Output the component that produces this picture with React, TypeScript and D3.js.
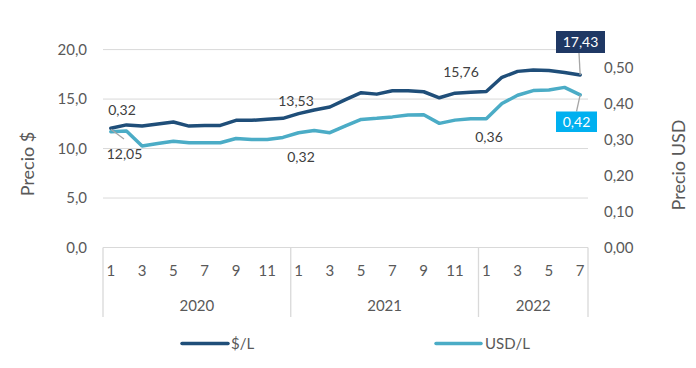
import React from 'react';
import * as d3 from 'd3';

const months = [1,2,3,4,5,6,7,8,9,10,11,12, 1,2,3,4,5,6,7,8,9,10,11,12, 1,2,3,4,5,6,7];
const years = ['2020', '2021', '2022'];
const yearCounts = [12, 12, 7];

const pesos = [12.05, 12.39, 12.27, 12.47, 12.68, 12.27, 12.34, 12.34, 12.85, 12.85, 12.95, 13.05,
  13.53, 13.9, 14.2, 14.95, 15.65, 15.5, 15.84, 15.84, 15.74, 15.13, 15.6, 15.7,
  15.76, 17.2, 17.8, 17.95, 17.88, 17.68, 17.43];
const usd = [0.322, 0.324, 0.282, 0.289, 0.295, 0.291, 0.291, 0.291, 0.303, 0.300, 0.300, 0.306,
  0.319, 0.325, 0.319, 0.338, 0.356, 0.359, 0.363, 0.368, 0.369, 0.345, 0.354, 0.358,
  0.358, 0.400, 0.423, 0.436, 0.438, 0.445, 0.424];

const leftTicks = [0, 5, 10, 15, 20];
const rightTicks = [0, 0.1, 0.2, 0.3, 0.4, 0.5];

const W = 696, H = 368;
const x0 = 103, x1 = 588, yTop = 49.6, yBot = 247.5;
const font = 'Lato, "Open Sans", sans-serif';
const dark = '#1F4E79';
const light = '#4BACC6';
const fmt = (v: number, d: number) => v.toFixed(d).replace('.', ',');

export default function App() {
  const x = d3.scaleBand<number>().domain(d3.range(months.length)).range([x0, x1]).padding(0);
  const cx = (i: number) => (x(i) as number) + x.bandwidth() / 2;
  const yL = d3.scaleLinear().domain([0, 20]).range([yBot, yTop]);
  const yR = d3.scaleLinear().domain([0, 0.55]).range([yBot, yTop]);

  const linePesos = d3.line<number>().x((_, i) => cx(i)).y(d => yL(d));
  const lineUsd = d3.line<number>().x((_, i) => cx(i)).y(d => yR(d));

  // year group boundaries
  const bounds: number[] = [0];
  yearCounts.forEach(c => bounds.push(bounds[bounds.length - 1] + c));

  const last = months.length - 1;
  const jan = bounds.slice(0, 3);

  return (
    <svg width={W} height={H} style={{ position: 'absolute', left: 0, top: 0 }} fontFamily={font}>
      <rect width={W} height={H} fill="#fff" />
      {leftTicks.map(t => (
        <g key={t}>
          <line x1={x0} x2={x1} y1={yL(t)} y2={yL(t)} stroke="#D9D9D9" strokeWidth={1} />
          <text x={87} y={yL(t)} dy="0.35em" textAnchor="end" fontSize={15} fill="#595959">{fmt(t, 1)}</text>
        </g>
      ))}
      {rightTicks.map(t => (
        <text key={t} x={604} y={yR(t)} dy="0.35em" fontSize={15} fill="#595959">{fmt(t, 2)}</text>
      ))}
      {/* category axis */}
      {bounds.map((b, k) => {
        const xx = k === bounds.length - 1 ? x1 : (x(b) as number);
        return <line key={k} x1={xx} x2={xx} y1={yBot} y2={317} stroke="#D9D9D9" strokeWidth={1.3} />;
      })}
      {months.map((m, i) => (i % 2 === 0 ? (
        <text key={i} x={cx(i)} y={271} dy="0.35em" textAnchor="middle" fontSize={15} fill="#595959">{m}</text>
      ) : null))}
      {years.map((yr, k) => {
        const a = x(bounds[k]) as number;
        const b = k === years.length - 1 ? x1 : (x(bounds[k + 1]) as number);
        return <text key={yr} x={(a + b) / 2} y={306} dy="0.35em" textAnchor="middle" fontSize={15} fill="#595959">{yr}</text>;
      })}
      <text transform="translate(34,164) rotate(-90)" textAnchor="middle" fontSize={18} fill="#595959">Precio $</text>
      <text transform="translate(685,165) rotate(-90)" textAnchor="middle" fontSize={18} fill="#595959">Precio USD</text>

      <path d={lineUsd(usd) || ''} fill="none" stroke={light} strokeWidth={3.5} strokeLinejoin="round" strokeLinecap="round" />
      <path d={linePesos(pesos) || ''} fill="none" stroke={dark} strokeWidth={3.5} strokeLinejoin="round" strokeLinecap="round" />

      {/* data labels */}
      <line x1={cx(0)} y1={yL(pesos[0]) + 1} x2={124} y2={139} stroke="#A6A6A6" strokeWidth={1.3} />
      <text x={124.5} y={154} dy="0.35em" textAnchor="middle" fontSize={14} fill="#404040">{fmt(pesos[0], 2)}</text>
      <text x={122} y={110} dy="0.35em" textAnchor="middle" fontSize={14} fill="#404040">{fmt(usd[0], 2)}</text>
      <text x={296} y={101.5} dy="0.35em" textAnchor="middle" fontSize={14} fill="#404040">{fmt(pesos[jan[1]], 2)}</text>
      <text x={301} y={157} dy="0.35em" textAnchor="middle" fontSize={14} fill="#404040">{fmt(usd[jan[1]], 2)}</text>
      <text x={461} y={72.5} dy="0.35em" textAnchor="middle" fontSize={14} fill="#404040">{fmt(pesos[jan[2]], 2)}</text>
      <text x={489} y={137.5} dy="0.35em" textAnchor="middle" fontSize={14} fill="#404040">{fmt(usd[jan[2]], 2)}</text>

      <line x1={cx(last)} y1={yL(pesos[last])} x2={579} y2={53} stroke="#A6A6A6" strokeWidth={1.3} />
      <rect x={556} y={31} width={49} height={22} fill="#1F3864" />
      <text x={580.5} y={42} dy="0.35em" textAnchor="middle" fontSize={14} fill="#fff">{fmt(pesos[last], 2)}</text>
      <line x1={cx(last)} y1={yR(usd[last])} x2={576.5} y2={111.5} stroke="#A6A6A6" strokeWidth={1.3} />
      <rect x={556} y={111.5} width={41} height={20.5} fill="#00B0F0" />
      <text x={576.5} y={122} dy="0.35em" textAnchor="middle" fontSize={14} fill="#fff">{fmt(usd[last], 2)}</text>

      {/* legend */}
      <line x1={182} x2={228} y1={343.5} y2={343.5} stroke={dark} strokeWidth={3.5} strokeLinecap="round" />
      <text x={231} y={343.5} dy="0.35em" fontSize={15} fill="#595959">$/L</text>
      <line x1={436} x2={481} y1={343.5} y2={343.5} stroke={light} strokeWidth={3.5} strokeLinecap="round" />
      <text x={485} y={343.5} dy="0.35em" fontSize={15} fill="#595959">USD/L</text>
    </svg>
  );
}
